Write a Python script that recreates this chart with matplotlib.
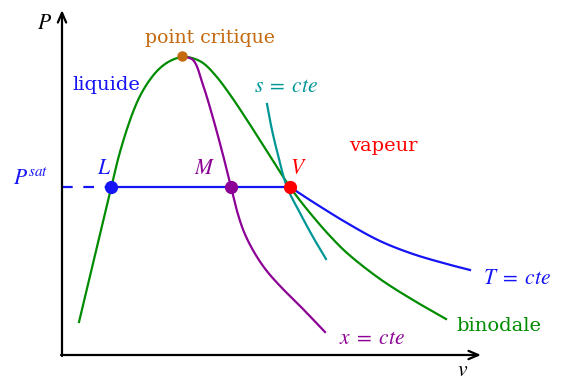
import numpy as np
import matplotlib
matplotlib.use('Agg')
import matplotlib.pyplot as plt

plt.rcParams['font.family'] = ['DejaVu Serif']
plt.rcParams['mathtext.fontset'] = 'stix'

# courbe binodale (v, P)
bin_v = [0.17, 0.49, 0.55, 0.60, 0.65, 0.71, 0.78, 0.87, 0.97, 1.08, 1.20, 1.30, 1.41, 1.54, 1.69,
         1.85, 2.01, 2.18, 2.28, 2.38, 2.53, 2.68, 2.85, 3.18, 3.51, 3.84]
bin_P = [0.33, 1.67, 1.92, 2.10, 2.26, 2.43, 2.59, 2.74, 2.86, 2.94, 2.98, 2.97, 2.92, 2.79, 2.59,
         2.35, 2.10, 1.83, 1.68, 1.545, 1.36, 1.19, 1.02, 0.76, 0.55, 0.36]

# titre constant x = cte
x_v = [1.20, 1.31, 1.41, 1.51, 1.61, 1.69, 1.75, 1.82, 1.92, 2.04, 2.19, 2.40, 2.63]
x_P = [2.99, 2.95, 2.70, 2.37, 2.00, 1.68, 1.44, 1.23, 1.03, 0.85, 0.68, 0.47, 0.23]

# isentrope s = cte
s_v = [2.05, 2.10, 2.16, 2.25, 2.38, 2.51, 2.64]
s_P = [2.51, 2.25, 2.00, 1.68, 1.42, 1.18, 0.96]

# isotherme T = cte, partie vapeur
T_v = [2.28, 2.51, 2.85, 3.18, 3.51, 3.85, 4.08]
T_P = [1.68, 1.53, 1.32, 1.14, 1.01, 0.91, 0.85]

P_sat = 1.68
v_L, v_M, v_V = 0.49, 1.69, 2.28
v_crit, P_crit = 1.20, 2.99

blue = '#1414f5'
green = '#008c00'
purple = '#8c0096'
teal = '#009696'
red = '#ff0000'
orange = '#c46a10'


def smooth(xs, ys, n=16):
    # Catmull-Rom centripete entre les points lus, juste pour le trace
    p = np.column_stack([xs, ys]).astype(float)
    p = np.vstack([2 * p[0] - p[1], p, 2 * p[-1] - p[-2]])
    out = []
    for i in range(1, len(p) - 2):
        p0, p1, p2, p3 = p[i - 1], p[i], p[i + 1], p[i + 2]
        t0 = 0.0
        t1 = t0 + np.linalg.norm(p1 - p0) ** 0.5
        t2 = t1 + np.linalg.norm(p2 - p1) ** 0.5
        t3 = t2 + np.linalg.norm(p3 - p2) ** 0.5
        t = np.linspace(t1, t2, n, endpoint=False)[:, None]
        a1 = (t1 - t) / (t1 - t0) * p0 + (t - t0) / (t1 - t0) * p1
        a2 = (t2 - t) / (t2 - t1) * p1 + (t - t1) / (t2 - t1) * p2
        a3 = (t3 - t) / (t3 - t2) * p2 + (t - t2) / (t3 - t2) * p3
        b1 = (t2 - t) / (t2 - t0) * a1 + (t - t0) / (t2 - t0) * a2
        b2 = (t3 - t) / (t3 - t1) * a2 + (t - t1) / (t3 - t1) * a3
        out.append((t2 - t) / (t2 - t1) * b1 + (t - t1) / (t2 - t1) * b2)
    out.append(p[-2][None, :])
    out = np.vstack(out)
    return out[:, 0], out[:, 1]


fig = plt.figure(figsize=(5.62, 3.8), dpi=100)
ax = fig.add_axes([0, 0, 1, 1])
ax.set_xlim(-0.62, 5.0)
ax.set_ylim(-0.25, 3.55)
ax.axis('off')

# axes avec fleches
arrow = dict(arrowstyle='->, head_length=0.7, head_width=0.3', lw=1.6, color='black',
             shrinkA=0, shrinkB=0)
ax.annotate('', xy=(0, 3.45), xytext=(0, -0.01), arrowprops=arrow)
ax.annotate('', xy=(4.19, 0), xytext=(-0.01, 0), arrowprops=arrow)

lw = 1.6
ax.plot(*smooth(bin_v, bin_P), color=green, lw=lw)
ax.plot(*smooth(x_v, x_P), color=purple, lw=lw)
ax.plot(*smooth(s_v, s_P), color=teal, lw=lw)
ax.plot(*smooth(T_v, T_P), color=blue, lw=lw)
ax.plot([v_L, v_V], [P_sat, P_sat], color=blue, lw=lw)
ax.plot([0, v_L], [P_sat, P_sat], color=blue, lw=lw, dashes=(4.8, 4.8))

ax.plot(v_L, P_sat, 'o', color=blue, ms=8.5)
ax.plot(v_M, P_sat, 'o', color=purple, ms=8.5)
ax.plot(v_V, P_sat, 'o', color=red, ms=8.5)
ax.plot(v_crit, P_crit, 'o', color=orange, ms=6.5)

fs = 14
ms_ = 15.5
ax.text(-0.17, 3.32, '$P$', fontsize=ms_, ha='center', va='center')
ax.text(4.01, -0.15, '$v$', fontsize=ms_, ha='center', va='center')
ax.text(1.48, 3.17, 'point critique', fontsize=13.6, color=orange, ha='center', va='center')
ax.text(0.44, 2.70, 'liquide', fontsize=fs, color=blue, ha='center', va='center')
ax.text(2.24, 2.69, r'$s\;=\;cte$', fontsize=ms_, color=teal, ha='center', va='center')
ax.text(3.21, 2.09, 'vapeur', fontsize=fs, color=red, ha='center', va='center')
ax.text(-0.31, 1.76, '$P^{sat}$', fontsize=ms_, color=blue, ha='center', va='center')
ax.text(0.42, 1.87, '$L$', fontsize=ms_, color=blue, ha='center', va='center')
ax.text(1.43, 1.87, '$M$', fontsize=ms_, color=purple, ha='center', va='center')
ax.text(2.36, 1.87, '$V$', fontsize=ms_, color=red, ha='center', va='center')
ax.text(4.55, 0.77, r'$T\;=\;cte$', fontsize=ms_, color=blue, ha='center', va='center')
ax.text(4.37, 0.29, 'binodale', fontsize=fs, color=green, ha='center', va='center')
ax.text(3.10, 0.17, r'$x\;=\;cte$', fontsize=ms_, color=purple, ha='center', va='center')

fig.savefig('out.png', dpi=100)
